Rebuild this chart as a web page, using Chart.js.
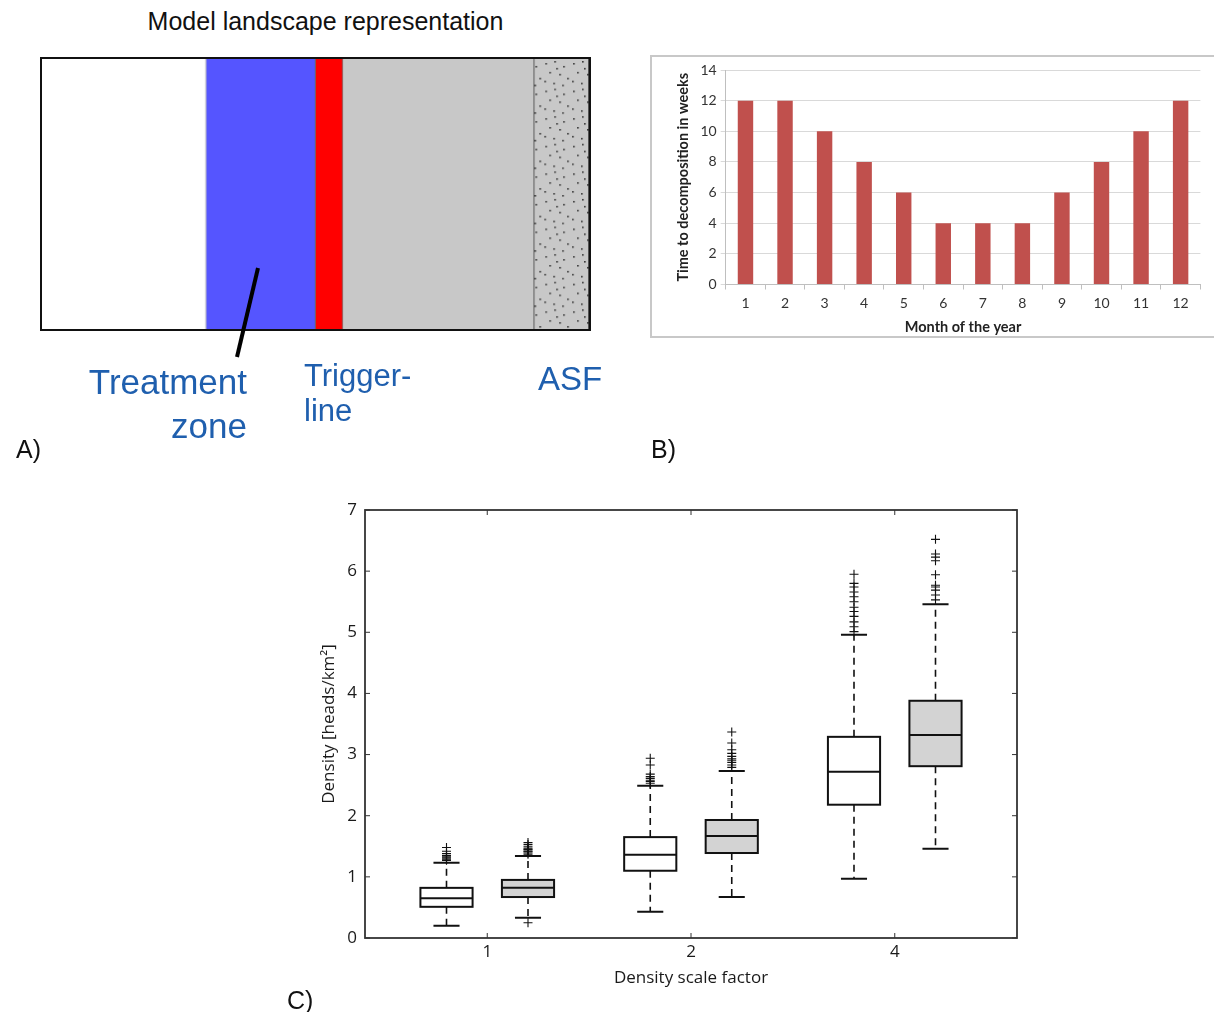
<!DOCTYPE html>
<html>
<head>
<meta charset="utf-8">
<script src="https://cdn.jsdelivr.net/npm/chart.js@4.4.1/dist/chart.umd.min.js"></script>
<style>
  html, body { margin: 0; padding: 0; background: #fff; }
  body { position: relative; width: 1214px; height: 1012px; overflow: hidden; font-family: "Liberation Sans", Arial, sans-serif; }
  .abs { position: absolute; line-height: 1; white-space: nowrap; }
  .blue { color: #1f5fae; }
</style>
</head>
<body>
<div class="abs" style="left:0;top:9px;width:651px;text-align:center;font-size:25px;color:#111;">Model landscape representation</div>
<canvas id="landscape" class="abs" width="551" height="274" style="left:40px;top:57px;border:2px solid #111;"></canvas>
<svg class="abs" width="1214" height="1012" style="left:0;top:0;pointer-events:none;">
  <line x1="258" y1="268" x2="237" y2="357" stroke="#000" stroke-width="4"/>
</svg>
<div class="abs blue" style="left:0;top:364px;width:247px;text-align:right;font-size:35px;">Treatment</div>
<div class="abs blue" style="left:0;top:408px;width:247px;text-align:right;font-size:35px;">zone</div>
<div class="abs blue" style="left:304px;top:360px;font-size:31px;">Trigger-</div>
<div class="abs blue" style="left:304px;top:395px;font-size:31px;">line</div>
<div class="abs blue" style="left:538px;top:362px;font-size:33px;">ASF</div>
<div class="abs" style="left:16px;top:437px;font-size:25px;color:#111;">A)</div>

<div class="abs" style="left:650px;top:55px;width:600px;height:279px;border:2px solid #c8c8c8;"></div>
<canvas id="decomp" class="abs" width="562" height="280" style="left:652px;top:57px;"></canvas>
<div class="abs" style="left:651px;top:437px;font-size:25px;color:#111;">B)</div>

<canvas id="density" class="abs" width="750" height="500" style="left:280px;top:500px;"></canvas>
<div class="abs" style="left:287px;top:988px;font-size:25px;color:#111;">C)</div>

<script>
// A) landscape strips, share of landscape width in %
const zoneNames = ['Free area', 'Treatment zone', 'Trigger-line', 'Buffer', 'ASF'];
const zoneShare = [30, 20, 5, 35, 10];

// B) time to decomposition per month
const months = ['1', '2', '3', '4', '5', '6', '7', '8', '9', '10', '11', '12'];
const decompWeeks = [12, 12, 10, 8, 6, 4, 4, 4, 6, 8, 10, 12];

// C) density boxplots, white and grey box per scale factor
const scaleFactors = ['1', '2', '4'];
const whiteMin = [0.20, 0.43, 0.97];
const whiteQ1 = [0.51, 1.10, 2.18];
const whiteMed = [0.65, 1.36, 2.72];
const whiteQ3 = [0.82, 1.65, 3.29];
const whiteMax = [1.23, 2.49, 4.96];
const whiteOut = [
  [1.27, 1.29, 1.31, 1.33, 1.35, 1.38, 1.42, 1.48],
  [2.53, 2.56, 2.58, 2.61, 2.64, 2.68, 2.83, 2.94],
  [5.01, 5.09, 5.17, 5.26, 5.34, 5.41, 5.50, 5.58, 5.66, 5.74, 5.80, 5.95]
];
const greyMin = [0.33, 0.67, 1.46];
const greyQ1 = [0.67, 1.39, 2.81];
const greyMed = [0.82, 1.67, 3.32];
const greyQ3 = [0.95, 1.93, 3.88];
const greyMax = [1.34, 2.73, 5.46];
const greyOut = [
  [0.25, 1.37, 1.39, 1.41, 1.42, 1.44, 1.45, 1.47, 1.50, 1.53, 1.56],
  [2.79, 2.83, 2.87, 2.90, 2.93, 2.97, 3.02, 3.08, 3.19, 3.37],
  [5.53, 5.61, 5.69, 5.74, 5.77, 5.94, 6.17, 6.23, 6.28, 6.52]
];

// ---------- A ----------
function dotPattern() {
  const c = document.createElement('canvas');
  c.width = 28; c.height = 28;
  const g = c.getContext('2d');
  g.fillStyle = '#c8c8c8';
  g.fillRect(0, 0, 28, 28);
  g.fillStyle = '#333';
  [[3,4],[12,2],[21,7],[7,13],[17,15],[25,19],[2,22],[11,24],[20,26],[14,9]].forEach(([px, py]) => g.fillRect(px, py, 1.6, 1.6));
  return g.createPattern(c, 'repeat');
}
const zoneFill = ['#ffffff', '#5555ff', '#ff0000', '#c8c8c8', dotPattern()];
const zoneEdge = ['#aaaaaa', '#444444', '#666666', '#444444', '#111111'];

new Chart(document.getElementById('landscape'), {
  type: 'bar',
  data: {
    labels: [''],
    datasets: zoneShare.map((v, i) => ({
      label: zoneNames[i],
      data: [v],
      backgroundColor: zoneFill[i],
      borderColor: zoneEdge[i],
      borderWidth: { top: 0, bottom: 0, left: 0, right: 1 },
      borderSkipped: false,
      barPercentage: 1,
      categoryPercentage: 1
    }))
  },
  options: {
    indexAxis: 'y',
    responsive: false,
    animation: false,
    layout: { padding: 0 },
    plugins: { legend: { display: false }, tooltip: { enabled: false } },
    scales: {
      x: { stacked: true, min: 0, max: 100, display: false },
      y: { stacked: true, display: false }
    }
  }
});

// ---------- B ----------
const calibri = 'Lato, "Open Sans", sans-serif';
new Chart(document.getElementById('decomp'), {
  type: 'bar',
  data: {
    labels: months,
    datasets: [{
      data: decompWeeks,
      backgroundColor: '#c0504d',
      barPercentage: 0.39,
      categoryPercentage: 1
    }]
  },
  options: {
    responsive: false,
    animation: false,
    layout: { padding: { left: 0, right: 13.6, top: 13, bottom: 0 } },
    plugins: { legend: { display: false }, tooltip: { enabled: false } },
    scales: {
      x: {
        grid: { offset: true, drawOnChartArea: false, tickLength: 5, color: '#bfbfbf' },
        border: { color: '#bfbfbf' },
        ticks: { padding: 6, color: '#333', font: { family: calibri, size: 14 } },
        title: {
          display: true, text: 'Month of the year', color: '#222',
          font: { family: calibri, size: 14.5, weight: 'bold' },
          padding: { top: 0, bottom: 1 }
        },
        afterFit: s => { s.height = 52.5; }
      },
      y: {
        min: 0, max: 14,
        ticks: { stepSize: 2, padding: 4, color: '#333', font: { family: calibri, size: 14 } },
        grid: { color: '#d9d9d9', tickLength: 5 },
        border: { color: '#bfbfbf' },
        title: {
          display: true, text: 'Time to decomposition in weeks', color: '#222',
          font: { family: calibri, size: 14.5, weight: 'bold' },
          padding: { top: 23, bottom: 0 }
        },
        afterFit: s => { s.width = 73.7; }
      }
    }
  }
});

// ---------- C ----------
const groupGap = 2.5;      // x distance between scale factor groups
const pairOffset = 0.5;    // white box left, grey box right of group centre
const boxHalf = 0.32;
const capHalf = 0.16;
const groupCentre = scaleFactors.map((_, i) => 1.5 + i * groupGap);

const boxSets = [
  { min: whiteMin, q1: whiteQ1, med: whiteMed, q3: whiteQ3, max: whiteMax, out: whiteOut, shift: -pairOffset, fill: '#ffffff' },
  { min: greyMin, q1: greyQ1, med: greyMed, q3: greyQ3, max: greyMax, out: greyOut, shift: pairOffset, fill: '#d3d3d3' }
];

const boxPlugin = {
  id: 'boxes',
  beforeDatasetsDraw(chart) {
    const { ctx, scales: { x, y } } = chart;
    const dx = v => x.getPixelForValue(v) - x.getPixelForValue(0);
    ctx.save();
    ctx.strokeStyle = '#111';
    boxSets.forEach(b => {
      groupCentre.forEach((gc, i) => {
        const cx = x.getPixelForValue(gc + b.shift);
        const bw = dx(boxHalf), cw = dx(capHalf);
        const pMin = y.getPixelForValue(b.min[i]), pQ1 = y.getPixelForValue(b.q1[i]);
        const pMed = y.getPixelForValue(b.med[i]), pQ3 = y.getPixelForValue(b.q3[i]);
        const pMax = y.getPixelForValue(b.max[i]);
        // whiskers
        ctx.lineWidth = 1.6;
        ctx.setLineDash([7, 5]);
        ctx.beginPath();
        ctx.moveTo(cx, pQ3); ctx.lineTo(cx, pMax);
        ctx.moveTo(cx, pQ1); ctx.lineTo(cx, pMin);
        ctx.stroke();
        ctx.setLineDash([]);
        // caps
        ctx.lineWidth = 2;
        ctx.beginPath();
        ctx.moveTo(cx - cw, pMax); ctx.lineTo(cx + cw, pMax);
        ctx.moveTo(cx - cw, pMin); ctx.lineTo(cx + cw, pMin);
        ctx.stroke();
        // box
        ctx.fillStyle = b.fill;
        ctx.fillRect(cx - bw, pQ3, 2 * bw, pQ1 - pQ3);
        ctx.strokeRect(cx - bw, pQ3, 2 * bw, pQ1 - pQ3);
        ctx.beginPath();
        ctx.moveTo(cx - bw, pMed); ctx.lineTo(cx + bw, pMed);
        ctx.stroke();
      });
    });
    ctx.restore();
  },
  afterDraw(chart) {
    const { ctx, chartArea: a, scales: { x, y } } = chart;
    ctx.save();
    ctx.strokeStyle = '#333';
    ctx.lineWidth = 1;
    ctx.beginPath();
    y.ticks.forEach(t => {
      const py = y.getPixelForValue(t.value);
      ctx.moveTo(a.left, py); ctx.lineTo(a.left + 5, py);
      ctx.moveTo(a.right, py); ctx.lineTo(a.right - 5, py);
    });
    x.ticks.forEach(t => {
      const px = x.getPixelForValue(t.value);
      ctx.moveTo(px, a.bottom); ctx.lineTo(px, a.bottom - 5);
      ctx.moveTo(px, a.top); ctx.lineTo(px, a.top + 5);
    });
    ctx.stroke();
    ctx.lineWidth = 1.8;
    ctx.strokeRect(a.left, a.top, a.right - a.left, a.bottom - a.top);
    ctx.restore();
  }
};

const outlierSets = [];
boxSets.forEach(b => {
  outlierSets.push({
    data: b.out.flatMap((vals, i) => vals.map(v => ({ x: groupCentre[i] + b.shift, y: v }))),
    pointStyle: 'cross',
    pointRadius: 4.5,
    borderColor: '#111',
    borderWidth: 1.1,
    showLine: false
  });
});

const openSans = '"Open Sans", sans-serif';
new Chart(document.getElementById('density'), {
  type: 'scatter',
  data: { datasets: outlierSets },
  options: {
    responsive: false,
    animation: false,
    layout: { padding: { left: 0, right: 13, top: 10, bottom: 0 } },
    plugins: { legend: { display: false }, tooltip: { enabled: false } },
    scales: {
      x: {
        type: 'linear', min: 0, max: 8,
        afterBuildTicks: s => { s.ticks = groupCentre.map(v => ({ value: v })); },
        ticks: { padding: 4, color: '#1a1a1a', font: { family: openSans, size: 17 }, callback: (v, i) => scaleFactors[i] },
        grid: { display: false, drawTicks: false },
        border: { display: false },
        title: {
          display: true, text: 'Density scale factor', color: '#1a1a1a',
          font: { family: openSans, size: 17 },
          padding: { top: 0, bottom: 11.8 }
        },
        afterFit: s => { s.height = 62; s.paddingLeft = 0; s.paddingRight = 0; }
      },
      y: {
        min: 0, max: 7,
        ticks: { stepSize: 1, padding: 8, color: '#1a1a1a', font: { family: openSans, size: 17 } },
        grid: { display: false, drawTicks: false },
        border: { display: false },
        title: {
          display: true, text: 'Density [heads/km²]', color: '#1a1a1a',
          font: { family: openSans, size: 17 },
          padding: { top: 38.8, bottom: 0 }
        },
        afterFit: s => { s.width = 85; s.paddingTop = 0; s.paddingBottom = 0; }
      }
    }
  },
  plugins: [boxPlugin]
});
</script>
</body>
</html>
